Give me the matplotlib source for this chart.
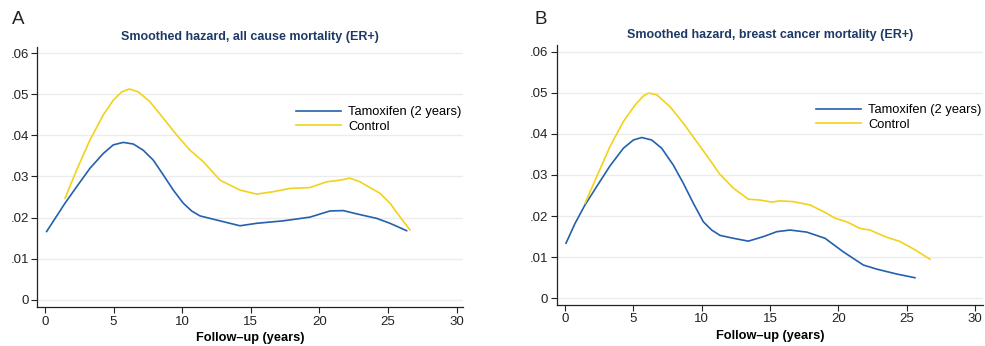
import numpy as np
import matplotlib.pyplot as plt

plt.rcParams['font.family'] = ['Liberation Sans', 'DejaVu Sans']

# --- Data (years, hazard) ---
# Panel A: all cause mortality
a_tam_x = [0.12, 1.46, 2.31, 3.28, 4.25, 4.98, 5.71, 6.44, 7.16, 7.89, 8.62, 9.35, 10.08,
           10.69, 11.3, 12.51, 14.21, 15.43, 17.37, 19.31, 20.77, 21.74, 22.72, 24.18,
           25.15, 26.36]
a_tam_y = [0.0166, 0.0235, 0.0275, 0.0320, 0.0356, 0.0377, 0.0383, 0.0379, 0.0364, 0.0340,
           0.0304, 0.0267, 0.0235, 0.0216, 0.0204, 0.0194, 0.0180, 0.0186, 0.0192, 0.0201,
           0.0216, 0.0217, 0.0209, 0.0198, 0.0186, 0.0168]
a_ctl_x = [1.46, 2.31, 3.28, 4.25, 4.98, 5.59, 6.15, 6.8, 7.65, 8.62, 9.6, 10.57, 11.54,
           12.76, 14.21, 15.43, 16.64, 17.85, 19.31, 20.53, 21.5, 22.23, 22.96, 24.42,
           25.15, 25.87, 26.6]
a_ctl_y = [0.0247, 0.0316, 0.0389, 0.0450, 0.0486, 0.0506, 0.0513, 0.0506, 0.0482, 0.0442,
           0.0401, 0.0364, 0.0336, 0.0291, 0.0267, 0.0257, 0.0263, 0.0271, 0.0273, 0.0287,
           0.0291, 0.0296, 0.0287, 0.0259, 0.0235, 0.0202, 0.0170]

# Panel B: breast cancer mortality
b_tam_x = [0.07, 0.73, 1.46, 2.32, 3.29, 4.27, 5.0, 5.61, 6.34, 7.07, 7.92, 8.65, 9.39,
           10.12, 10.73, 11.34, 12.31, 13.41, 14.51, 15.49, 16.46, 17.68, 19.02, 20.36,
           21.82, 22.8, 24.27, 25.6]
b_tam_y = [0.0134, 0.0182, 0.0227, 0.0272, 0.0322, 0.0365, 0.0385, 0.0391, 0.0385, 0.0365,
           0.0324, 0.0280, 0.0231, 0.0186, 0.0166, 0.0153, 0.0146, 0.0139, 0.0150, 0.0162,
           0.0166, 0.0161, 0.0146, 0.0113, 0.0081, 0.0071, 0.0059, 0.0050]
b_ctl_x = [1.46, 2.32, 3.29, 4.27, 5.12, 5.73, 6.1, 6.71, 7.68, 8.65, 9.63, 10.61, 11.29,
           12.31, 13.41, 14.26, 15.12, 15.73, 16.7, 17.92, 18.9, 19.75, 20.61, 21.58,
           22.31, 23.41, 24.51, 25.6, 26.7]
b_ctl_y = [0.0231, 0.0296, 0.0369, 0.0430, 0.0470, 0.0492, 0.0499, 0.0495, 0.0466, 0.0426,
           0.0381, 0.0336, 0.0303, 0.0268, 0.0241, 0.0239, 0.0234, 0.0237, 0.0235, 0.0227,
           0.0211, 0.0195, 0.0186, 0.0170, 0.0166, 0.0150, 0.0138, 0.0118, 0.0095]

titles = ["Smoothed hazard, all cause mortality (ER+)",
          "Smoothed hazard, breast cancer mortality (ER+)"]
panel_labels = ["A", "B"]
series_labels = ["Tamoxifen (2 years)", "Control"]
xticks = [0, 5, 10, 15, 20, 25, 30]
yticks = [0, 0.01, 0.02, 0.03, 0.04, 0.05, 0.06]
ytick_labels = ["0", ".01", ".02", ".03", ".04", ".05", ".06"]

blue = "#2460ad"
yellow = "#f2d21a"
title_col = "#1d3a66"

W, H = 985, 346
fig = plt.figure(figsize=(W / 100, H / 100), dpi=100)

# axes boxes in pixels: left, right, top, bottom
boxes = [(37.3, 463, 46.7, 307.3), (556.7, 983, 45, 305)]
xlims = [(-0.56, 30.47), (-0.61, 30.58)]
ylims = [(-0.00185, 0.0616), (-0.00163, 0.0616)]
label_x = [18, 541]

data = [((a_tam_x, a_tam_y), (a_ctl_x, a_ctl_y)),
        ((b_tam_x, b_tam_y), (b_ctl_x, b_ctl_y))]

for i, (l, r, t, b) in enumerate(boxes):
    ax = fig.add_axes([l / W, 1 - b / H, (r - l) / W, (b - t) / H])
    (tx, ty), (cx, cy) = data[i]
    ax.plot(tx, ty, color=blue, lw=1.2, label=series_labels[0], solid_joinstyle="round")
    ax.plot(cx, cy, color=yellow, lw=1.2, label=series_labels[1], solid_joinstyle="round")

    ax.set_xlim(*xlims[i])
    ax.set_ylim(*ylims[i])
    ax.set_xticks(xticks)
    ax.set_yticks(yticks)
    ax.set_yticklabels(ytick_labels)
    ax.tick_params(labelsize=9.5, length=4, width=0.8, colors="#222222", pad=2)
    for y in yticks:
        ax.axhline(y, color="#ececec", lw=1.0, zorder=0)
    for s in ["top", "right"]:
        ax.spines[s].set_visible(False)
    for s in ["left", "bottom"]:
        ax.spines[s].set_color("#222222")
        ax.spines[s].set_linewidth(0.9)

    ax.set_title(titles[i], fontsize=9, fontweight="bold", color=title_col, pad=5)
    ax.set_xlabel("Follow\u2013up (years)", fontsize=9.2, fontweight="bold", labelpad=3)
    ax.legend(loc="upper left", bbox_to_anchor=(0.608, 0.772), frameon=False, fontsize=9.3,
              handlelength=3.5, handletextpad=0.55, labelspacing=0.2, borderpad=0,
              borderaxespad=0)

    fig.text(label_x[i] / W, 1 - 20 / H, panel_labels[i], fontsize=13.5,
             ha="center", va="center", color="#222222")

fig.savefig("out.png", dpi=100)
